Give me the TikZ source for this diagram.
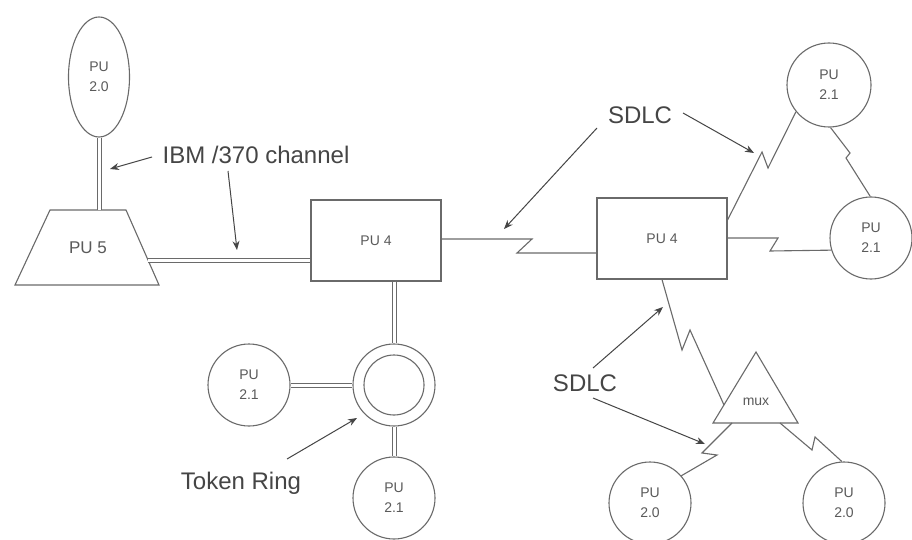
\documentclass[tikz,border=0pt]{standalone}
\usepackage{fontspec}
\setmainfont{Liberation Sans}
\usetikzlibrary{arrows.meta,shapes.geometric,calc}
\definecolor{lc}{HTML}{6A6A6A}
\definecolor{labc}{HTML}{454545}
\definecolor{txc}{HTML}{5A5A5A}
\begin{document}
\begin{tikzpicture}[x=1pt,y=-1pt,
  every path/.style={draw=lc},
  pu/.style={circle, draw=lc, line width=1.1pt, minimum size=82pt, inner sep=0pt,
    align=center, text=txc, font=\fontsize{14}{20}\selectfont},
  unitbox/.style={rectangle, draw=lc, line width=1.1pt, minimum width=130pt,
    minimum height=81pt, inner sep=0pt, text=txc, font=\fontsize{14}{17}\selectfont},
  smalltxt/.style={text=txc, font=\fontsize{14}{17}\selectfont, inner sep=0pt},
  dbl/.style={draw=lc, double=white, double distance=3pt, line width=1pt},
  zig/.style={draw=lc, line width=1.1pt, line join=miter},
  lab/.style={text=labc, font=\fontsize{24}{28}\selectfont, inner sep=0pt},
  ptr/.style={draw=labc, line width=1pt, -{Stealth[length=9pt,width=7pt]}}
]
\useasboundingbox[fill=white, draw=none] (0,0) rectangle (912,540);

% ---------- nodes ----------
\node[ellipse, draw=lc, line width=1.1pt, minimum width=61pt, minimum height=120pt,
      inner sep=0pt, align=center, text=txc, font=\fontsize{14}{20}\selectfont]
      (e20) at (99,77) {PU\\2.0};

\coordinate (t1) at (50,210);
\coordinate (t2) at (126,210);
\coordinate (t3) at (159,285);
\coordinate (t4) at (15,285);
\draw[line width=1.1pt, line join=miter] (t1) -- (t2) -- (t3) -- (t4) -- cycle;
\node[text=txc, font=\fontsize{17}{20}\selectfont, inner sep=0pt] (pu5) at (88,248) {PU 5};
\coordinate (pu5top) at (99,210);
\coordinate (pu5r) at (148,260);

\node[unitbox] (box1) at (376,240.5) {PU 4};
\node[unitbox] (box2) at (662,238.5) {PU 4};

\node[circle, draw=lc, line width=1.1pt, minimum size=82pt, inner sep=0pt] (ring) at (394,385) {};
\node[circle, draw=lc, line width=1.1pt, minimum size=60pt, inner sep=0pt] (ringin) at (394,385) {};

\node[pu] (c21l) at (249,385) {PU\\2.1};
\node[pu] (c21b) at (394,498) {PU\\2.1};
\node[pu, minimum size=84pt] (c21tr) at (829,85) {PU\\2.1};
\node[pu] (c21r) at (871,238) {PU\\2.1};
\node[pu] (c20l) at (650,503) {PU\\2.0};
\node[pu] (c20r) at (844,503) {PU\\2.0};

\coordinate (mA) at (756,352);
\coordinate (mB) at (798,423);
\coordinate (mC) at (713,423);
\draw[line width=1.1pt, line join=miter] (mA) -- (mB) -- (mC) -- cycle;
\node[smalltxt] (mux) at (756,402) {mux};
\coordinate (muxL) at (724,405);
\coordinate (muxB1) at (732,423);
\coordinate (muxB2) at (780,423);

% ---------- double (channel / ring) links ----------
\draw[dbl] (e20.south) -- (pu5top);
\draw[dbl] (pu5r) -- (pu5r -| box1.west);
\draw[dbl] (ring.north |- box1.south) -- (ring.north);
\draw[dbl] (c21l.east) -- (ring.west);
\draw[dbl] (ring.south) -- (c21b.north);

% ---------- SDLC zig-zag links ----------
\draw[zig] (box1.east |- 0,239) -- (532,239) -- (517,253) -- (box2.west |- 0,253);
\draw[zig] (box2.east |- 0,220) -- (762,152) -- (768,168) -- (c21tr.219.5);
\draw[zig] (c21tr.272) -- (850,153) -- (846,158) -- (c21r.91);
\draw[zig] (box2.east |- 0,238) -- (778,238) -- (770,251) -- (c21r.197);
\draw[zig] (box2.south) -- (682,350) -- (690,330) -- (muxL);
\draw[zig] (muxB1) -- (702,453) -- (717,455) -- (c20l.41);
\draw[zig] (muxB2) -- (812,450) -- (815,437) -- (c20r.93);

% ---------- labels ----------
\node[lab] (ibm) at (256,155) {IBM /370 channel};
\coordinate (ibmA) at (152,157);
\coordinate (ibmAt) at (110,169);
\coordinate (ibmB) at (228,171);
\coordinate (ibmBt) at (237,250);
\draw[ptr] (ibmA) -- (ibmAt);
\draw[ptr] (ibmB) -- (ibmBt);

\node[lab] (sdlc1) at (640,115) {SDLC};
\coordinate (s1A) at (597,128);
\coordinate (s1At) at (504,229);
\coordinate (s1B) at (683,113);
\coordinate (s1Bt) at (754,153);
\draw[ptr] (s1A) -- (s1At);
\draw[ptr] (s1B) -- (s1Bt);

\node[lab] (sdlc2) at (585,383) {SDLC};
\coordinate (s2A) at (593,368);
\coordinate (s2At) at (663,307);
\coordinate (s2B) at (593,398);
\coordinate (s2Bt) at (705,444);
\draw[ptr] (s2A) -- (s2At);
\draw[ptr] (s2B) -- (s2Bt);

\node[lab] (tok) at (241,483) {Token Ring};
\coordinate (tkA) at (287,459);
\coordinate (tkAt) at (357,418);
\draw[ptr] (tkA) -- (tkAt);
\end{tikzpicture}
\end{document}
